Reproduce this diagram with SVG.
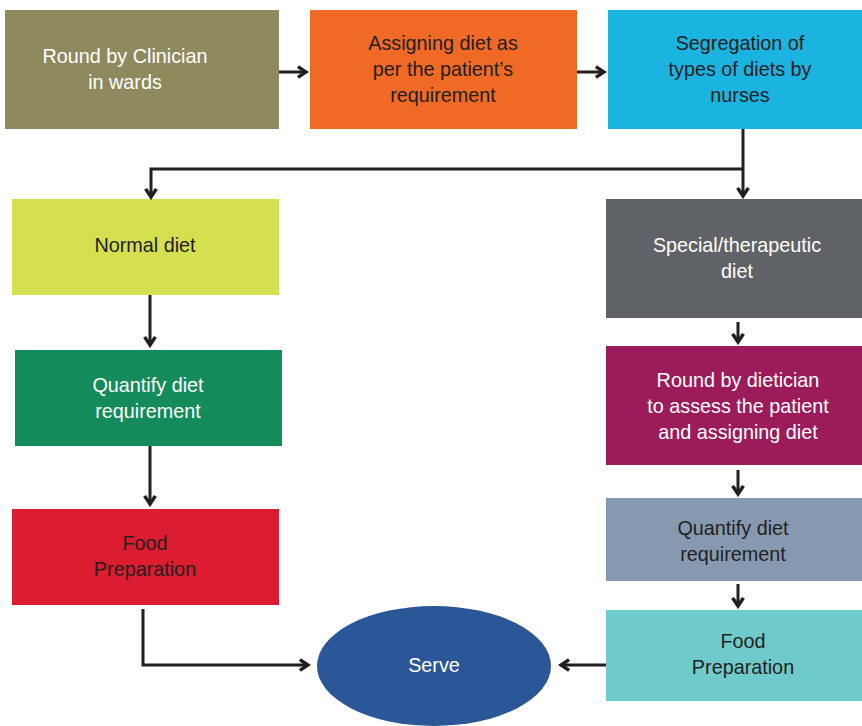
<svg xmlns="http://www.w3.org/2000/svg" width="862" height="726" viewBox="0 0 862 726">
<style>
text{font-family:"Liberation Sans",Arial,sans-serif;font-size:19.8px;text-anchor:middle}
.w{fill:#ffffff}.d{fill:#231f20}
.c{fill:none;stroke:#231f20;stroke-width:3;stroke-linejoin:miter}
</style>
<defs>
<marker id="ah" viewBox="0 0 10 10" refX="8" refY="5" markerWidth="4.5" markerHeight="4.5" orient="auto" markerUnits="strokeWidth">
<path d="M2,1 L8,5 L2,9" fill="none" stroke="#231f20" stroke-width="2.6"/>
</marker>
</defs>
<rect width="862" height="726" fill="#ffffff"/>
<g id="n1"><rect x="5" y="10" width="274" height="119" fill="#8e8a5e"/><text class="w" x="125" y="63">Round by Clinician</text><text class="w" x="125" y="89">in wards</text></g>
<g id="n2"><rect x="310" y="10" width="267" height="119" fill="#f06a25"/><text class="d" x="443" y="50">Assigning diet as</text><text class="d" x="443" y="76">per the patient’s</text><text class="d" x="443" y="102">requirement</text></g>
<g id="n3"><rect x="608" y="10" width="254" height="119" fill="#1bb3e0"/><text class="d" x="740" y="50">Segregation of</text><text class="d" x="740" y="76">types of diets by</text><text class="d" x="740" y="102">nurses</text></g>
<g id="n4"><rect x="12" y="199" width="267" height="96" fill="#d4e04f"/><text class="d" x="145" y="252">Normal diet</text></g>
<g id="n5"><rect x="606" y="199" width="256" height="119" fill="#5f6368"/><text class="w" x="737" y="252">Special/therapeutic</text><text class="w" x="737" y="278">diet</text></g>
<g id="n6"><rect x="15" y="350" width="267" height="96" fill="#138b5a"/><text class="w" x="148" y="392">Quantify diet</text><text class="w" x="148" y="418">requirement</text></g>
<g id="n7"><rect x="606" y="346" width="256" height="119" fill="#9c1b5a"/><text class="w" x="738" y="387">Round by dietician</text><text class="w" x="738" y="413">to assess the patient</text><text class="w" x="738" y="439">and assigning diet</text></g>
<g id="n8"><rect x="12" y="509" width="267" height="96" fill="#db1c31"/><text class="d" x="145" y="550">Food</text><text class="d" x="145" y="576">Preparation</text></g>
<g id="n9"><rect x="606" y="498" width="256" height="83" fill="#8799b1"/><text class="d" x="733" y="535">Quantify diet</text><text class="d" x="733" y="561">requirement</text></g>
<g id="n10"><rect x="606" y="610" width="256" height="91" fill="#6fcacb"/><text class="d" x="743" y="648">Food</text><text class="d" x="743" y="674">Preparation</text></g>
<g id="n11"><ellipse cx="434" cy="666" rx="117" ry="60" fill="#2b5798"/><text class="w" x="434" y="672">Serve</text></g>
<g id="connectors">
<path class="c" d="M279,72 H306" marker-end="url(#ah)"/>
<path class="c" d="M577,72 H604" marker-end="url(#ah)"/>
<path class="c" d="M743,129 V196" marker-end="url(#ah)"/>
<path class="c" d="M743,169 H151 V197" marker-end="url(#ah)"/>
<path class="c" d="M150,295 V345" marker-end="url(#ah)"/>
<path class="c" d="M150,446 V504" marker-end="url(#ah)"/>
<path class="c" d="M738,322 V342" marker-end="url(#ah)"/>
<path class="c" d="M738,470 V494" marker-end="url(#ah)"/>
<path class="c" d="M738,584 V606" marker-end="url(#ah)"/>
<path class="c" d="M143,609 V665 H308" marker-end="url(#ah)"/>
<path class="c" d="M606,665 H561" marker-end="url(#ah)"/>
</g>
</svg>
